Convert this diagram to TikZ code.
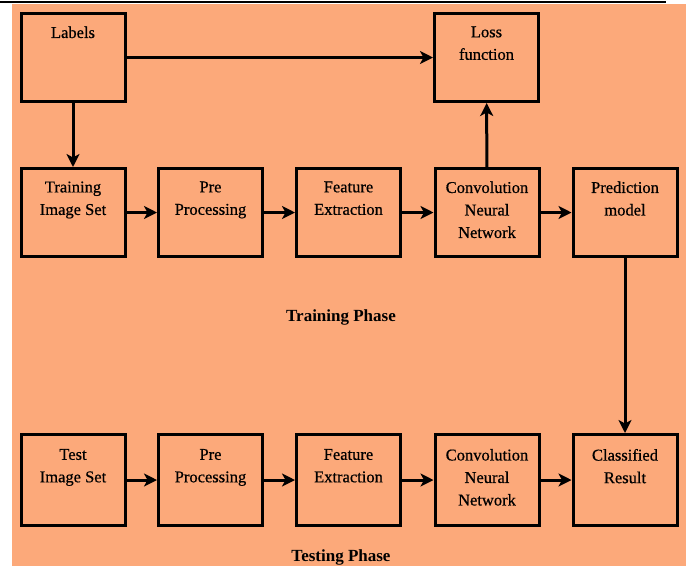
\documentclass[tikz,border=0pt]{standalone}
\usepackage{fontspec}
\setmainfont{Liberation Serif}
\newfontfamily\boxfont{Liberation Serif}[FakeBold=0.6]
\usetikzlibrary{arrows.meta}
\definecolor{peach}{RGB}{252,169,122}
\newcommand{\bxt}[1]{\parbox[c][86pt][t]{104pt}{\centering\vspace*{12pt}#1}}
\begin{document}
\begin{tikzpicture}[x=1pt,y=-1pt]
\tikzset{blk/.style={draw,line width=3pt,fill=peach,inner sep=0pt,minimum width=104pt,minimum height=88pt,font=\boxfont\fontsize{16.5}{22.5}\selectfont},
ar/.style={-{Stealth[length=13pt,width=13pt,inset=3.5pt]},line width=3pt},
phase/.style={font=\fontsize{17}{20}\selectfont\bfseries,anchor=base}}
\useasboundingbox (0,0) rectangle (686,566);
\fill[peach] (12,3.5) rectangle (686,566);
\draw[line width=2.5pt] (0,2) -- (666,2);
\node (lab) at (73,57.5) [blk] {\bxt{Labels}};
\node (loss) at (486.5,57.5) [blk] {\bxt{Loss\\function}};
\node (trn) at (73,212.5) [blk] {\bxt{Training\\Image Set}};
\node (pre1) at (210.5,212.5) [blk] {\bxt{Pre\\Processing}};
\node (fe1) at (348.5,212.5) [blk] {\bxt{Feature\\Extraction}};
\node (cnn1) at (487,212.5) [blk] {\bxt{Convolution\\Neural\\Network}};
\node (pm) at (625,212.5) [blk] {\bxt{Prediction\\model}};
\node (tst) at (73,480) [blk,minimum height=91pt] {\bxt{Test\\Image Set}};
\node (pre2) at (210.5,480) [blk,minimum height=91pt] {\bxt{Pre\\Processing}};
\node (fe2) at (348.5,480) [blk,minimum height=91pt] {\bxt{Feature\\Extraction}};
\node (cnn2) at (487,480) [blk,minimum height=91pt] {\bxt{Convolution\\Neural\\Network}};
\node (cls) at (625,480) [blk,minimum height=91pt] {\bxt{Classified\\Result}};
\node (trp) at (341,321) [phase] {Training Phase};
\node (tsp) at (341,561) [phase] {Testing Phase};
\draw[ar] (lab)--(loss);
\draw[ar] (lab)--(trn);
\draw[ar] (trn)--(pre1);
\draw[ar] (pre1)--(fe1);
\draw[ar] (fe1)--(cnn1);
\draw[ar] (cnn1)--(pm);
\draw[ar] (cnn1)--(loss);
\draw[ar] (pm)--(cls);
\draw[ar] (tst)--(pre2);
\draw[ar] (pre2)--(fe2);
\draw[ar] (fe2)--(cnn2);
\draw[ar] (cnn2)--(cls);
\end{tikzpicture}
\end{document}
